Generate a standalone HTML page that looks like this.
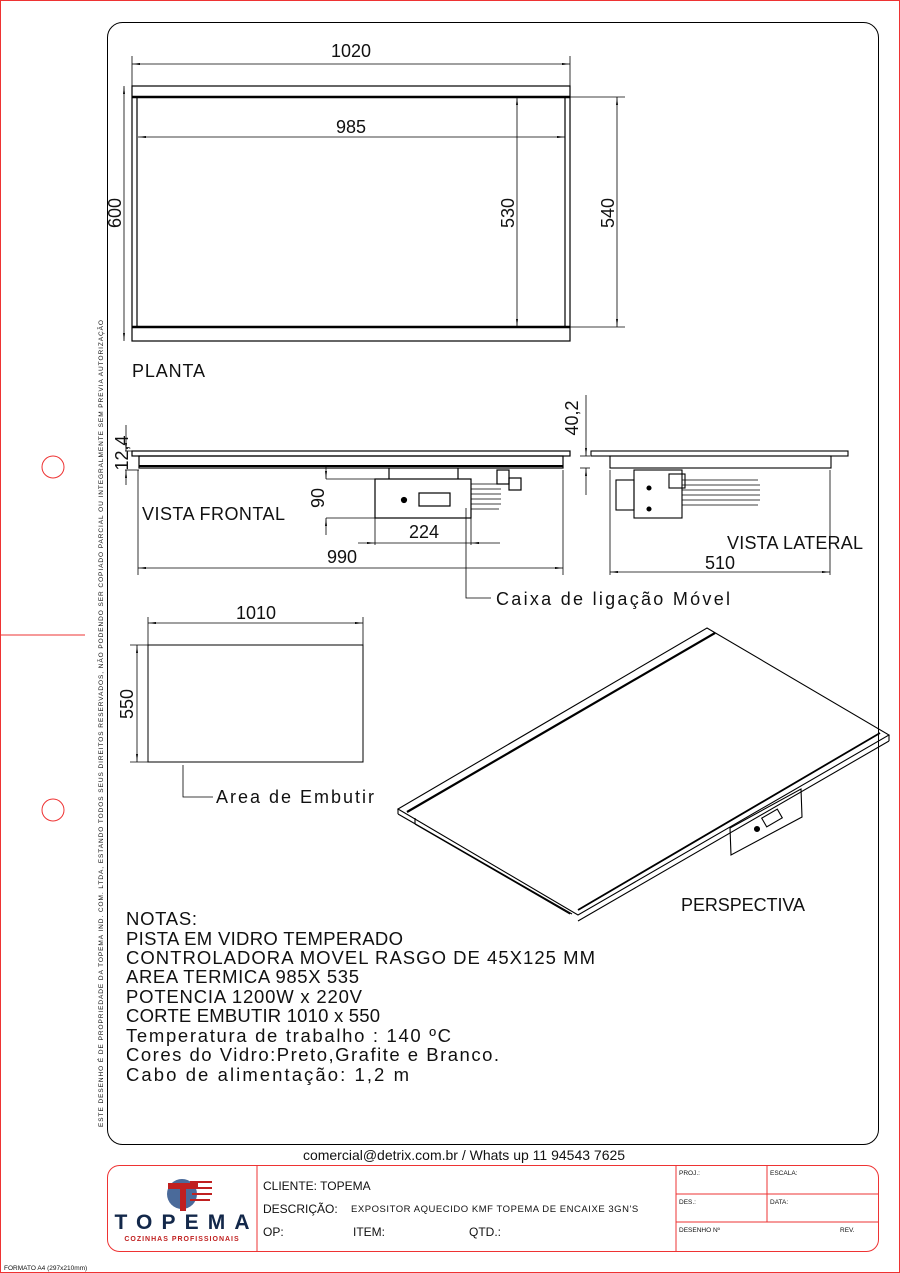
<!DOCTYPE html>
<html><head><meta charset="utf-8"><style>
body{margin:0;background:#fff}
svg{display:block}
text{font-family:"Liberation Sans",sans-serif;fill:#111}
</style></head><body>
<svg width="900" height="1273" viewBox="0 0 900 1273" xmlns="http://www.w3.org/2000/svg">
<defs><marker id="a" viewBox="0 0 10 4" refX="10" refY="2" markerWidth="10" markerHeight="4" orient="auto-start-reverse"><path d="M0,0.8L10,2L0,3.2z" fill="#000"/></marker></defs>
<rect x="0.5" y="0.5" width="899" height="1272" fill="none" stroke="#e33" stroke-width="1"/>
<line x1="0" y1="635" x2="85" y2="635" stroke="#e33"/>
<circle cx="53" cy="467" r="11" fill="none" stroke="#e33"/>
<circle cx="53" cy="810" r="11" fill="none" stroke="#e33"/>
<rect x="107.5" y="22.5" width="771" height="1122" rx="15" fill="none" stroke="#000"/>
<text transform="translate(103,1127) rotate(-90)" font-size="6.5" letter-spacing="1" textLength="808" lengthAdjust="spacing">ESTE DESENHO É DE PROPRIEDADE DA TOPEMA IND. COM. LTDA, ESTANDO TODOS SEUS DIREITOS RESERVADOS, NÃO PODENDO SER COPIADO PARCIAL OU INTEGRALMENTE SEM PREVIA AUTORIZAÇÃO</text>
<g fill="none" stroke="#000" stroke-width="1.2">
<rect x="132" y="86" width="438" height="255"/>
<line x1="132" y1="97" x2="570" y2="97" stroke-width="2.5"/>
<line x1="132" y1="327" x2="570" y2="327" stroke-width="2.5"/>
<line x1="137" y1="97" x2="137" y2="327"/><line x1="565" y1="97" x2="565" y2="327"/>
</g>
<g stroke="#000" stroke-width="0.8" fill="none">
<line x1="132" y1="86" x2="132" y2="56"/><line x1="570" y1="86" x2="570" y2="56"/>
<line x1="132" y1="64" x2="570" y2="64" marker-start="url(#a)" marker-end="url(#a)"/>
<line x1="138" y1="137" x2="565" y2="137" marker-start="url(#a)" marker-end="url(#a)"/>
<line x1="124" y1="86" x2="124" y2="341" marker-start="url(#a)" marker-end="url(#a)"/>
<line x1="517" y1="97" x2="517" y2="327" marker-start="url(#a)" marker-end="url(#a)"/>
<line x1="570" y1="97" x2="625" y2="97"/><line x1="570" y1="327" x2="625" y2="327"/>
<line x1="617" y1="97" x2="617" y2="327" marker-start="url(#a)" marker-end="url(#a)"/>
</g>
<text x="351" y="57" font-size="18" text-anchor="middle">1020</text>
<text x="351" y="133" font-size="18" text-anchor="middle">985</text>
<text transform="translate(121,213) rotate(-90)" font-size="18" text-anchor="middle">600</text>
<text transform="translate(514,213) rotate(-90)" font-size="18" text-anchor="middle">530</text>
<text transform="translate(614,213) rotate(-90)" font-size="18" text-anchor="middle">540</text>
<text x="132" y="377" font-size="18" textLength="73">PLANTA</text>
<g fill="none" stroke="#000" stroke-width="1.2">
<rect x="132" y="451" width="438" height="5"/>
<rect x="139" y="456" width="424" height="12"/>
<line x1="139" y1="466" x2="563" y2="466" stroke-width="2"/>
<line x1="389" y1="468" x2="389" y2="479"/><line x1="458" y1="468" x2="458" y2="479"/>
<rect x="375" y="479" width="96" height="39"/>
<rect x="419" y="493" width="31" height="13"/>
<circle cx="404" cy="500" r="2.5" fill="#000"/>
<path d="M471,484h28M471,489h30M471,494h30M471,499h30M471,504h30M471,509h28" stroke-width="0.7"/>
<rect x="497" y="470" width="12" height="14"/><rect x="509" y="478" width="12" height="12"/>
</g>
<g stroke="#000" stroke-width="0.8" fill="none">
<line x1="125" y1="451" x2="132" y2="451"/><line x1="125" y1="470" x2="139" y2="470"/>
<line x1="126" y1="425" x2="126" y2="451" marker-end="url(#a)"/><line x1="126" y1="485" x2="126" y2="470" marker-end="url(#a)"/>
<line x1="138" y1="470" x2="138" y2="575"/><line x1="563" y1="470" x2="563" y2="575"/>
<line x1="138" y1="568" x2="563" y2="568" marker-start="url(#a)" marker-end="url(#a)"/>
<line x1="326" y1="479" x2="375" y2="479"/><line x1="326" y1="518" x2="375" y2="518"/>
<line x1="326" y1="465" x2="326" y2="479" marker-end="url(#a)"/><line x1="326" y1="535" x2="326" y2="518" marker-end="url(#a)"/>
<line x1="375" y1="518" x2="375" y2="545"/><line x1="471" y1="518" x2="471" y2="545"/>
<line x1="358" y1="543" x2="375" y2="543" marker-end="url(#a)"/><line x1="375" y1="543" x2="471" y2="543"/><line x1="500" y1="543" x2="471" y2="543" marker-end="url(#a)"/>
<line x1="580" y1="456" x2="590" y2="456"/><line x1="580" y1="468" x2="590" y2="468"/>
<line x1="586" y1="395" x2="586" y2="456" marker-end="url(#a)"/><line x1="586" y1="495" x2="586" y2="468" marker-end="url(#a)"/>
<polyline points="466,508 466,598 491,598"/>
</g>
<text transform="translate(128,453) rotate(-90)" font-size="18" text-anchor="middle">12,4</text>
<text transform="translate(324,498) rotate(-90)" font-size="18" text-anchor="middle">90</text>
<text transform="translate(578,418) rotate(-90)" font-size="18" text-anchor="middle">40,2</text>
<text x="424" y="538" font-size="18" text-anchor="middle">224</text>
<text x="342" y="563" font-size="18" text-anchor="middle">990</text>
<text x="142" y="520" font-size="18" textLength="143">VISTA FRONTAL</text>
<text x="496" y="605" font-size="18" textLength="234">Caixa de ligação Móvel</text>
<g fill="none" stroke="#000" stroke-width="1.1">
<rect x="591" y="451" width="257" height="5"/>
<rect x="610" y="456" width="221" height="12"/>
<rect x="634" y="470" width="48" height="48"/>
<rect x="616" y="480" width="18" height="30"/>
<circle cx="649" cy="488" r="2" fill="#000"/><circle cx="649" cy="509" r="2" fill="#000"/>
<path d="M682,480h76M682,485h78M682,490h78M682,495h78M682,500h78M682,505h76" stroke-width="0.7"/>
<rect x="669" y="474" width="16" height="14"/>
</g>
<g stroke="#000" stroke-width="0.8" fill="none">
<line x1="610" y1="470" x2="610" y2="575"/><line x1="830" y1="470" x2="830" y2="575"/>
<line x1="610" y1="572" x2="830" y2="572" marker-start="url(#a)" marker-end="url(#a)"/>
</g>
<text x="727" y="549" font-size="18" textLength="136">VISTA LATERAL</text>
<text x="720" y="569" font-size="18" text-anchor="middle">510</text>
<rect x="148" y="645" width="215" height="117" fill="none" stroke="#000" stroke-width="1"/>
<g stroke="#000" stroke-width="0.8" fill="none">
<line x1="148" y1="645" x2="148" y2="617"/><line x1="363" y1="645" x2="363" y2="617"/>
<line x1="148" y1="623" x2="363" y2="623" marker-start="url(#a)" marker-end="url(#a)"/>
<line x1="148" y1="645" x2="130" y2="645"/><line x1="148" y1="762" x2="130" y2="762"/>
<line x1="137" y1="645" x2="137" y2="762" marker-start="url(#a)" marker-end="url(#a)"/>
<polyline points="183,765 183,797 213,797"/>
</g>
<text x="256" y="619" font-size="18" text-anchor="middle">1010</text>
<text transform="translate(133,704) rotate(-90)" font-size="18" text-anchor="middle">550</text>
<text x="216" y="803" font-size="18" textLength="158">Area de Embutir</text>
<g fill="none" stroke="#000" stroke-width="1.1">
<polygon points="707,628 889,735 578,915 398,809"/>
<line x1="715" y1="633" x2="407" y2="812" stroke-width="2.2"/>
<line x1="398" y1="809" x2="398" y2="814"/><line x1="398" y1="814" x2="572" y2="914"/>
<line x1="578" y1="910" x2="880" y2="733" stroke-width="1.8"/>
<line x1="889" y1="735" x2="889" y2="741"/><line x1="889" y1="741" x2="578" y2="921"/>
<line x1="415" y1="818" x2="415" y2="824"/><line x1="415" y1="824" x2="570" y2="914"/>
<polygon points="730,828 801,789 802,817 731,855"/>
<rect x="763" y="813" width="18" height="10" transform="rotate(-30 772 818)"/>
<circle cx="757" cy="829" r="2.5" fill="#000"/>
</g>
<text x="681" y="911" font-size="18" textLength="124">PERSPECTIVA</text>
<g font-size="18.5">
<text x="126" y="925" textLength="71">NOTAS:</text>
<text x="126" y="945" textLength="277">PISTA EM VIDRO TEMPERADO</text>
<text x="126" y="964" textLength="469">CONTROLADORA MOVEL RASGO DE 45X125 MM</text>
<text x="126" y="983" textLength="233">AREA TERMICA 985X 535</text>
<text x="126" y="1003" textLength="236">POTENCIA 1200W x 220V</text>
<text x="126" y="1022" textLength="254">CORTE EMBUTIR 1010 x 550</text>
<text x="126" y="1042" textLength="325">Temperatura de trabalho : 140 ºC</text>
<text x="126" y="1061" textLength="373">Cores do Vidro:Preto,Grafite e Branco.</text>
<text x="126" y="1081" textLength="283">Cabo de alimentação: 1,2 m</text>
</g>
<text x="464" y="1160" font-size="14" text-anchor="middle">comercial@detrix.com.br / Whats up 11 94543 7625</text>
<g fill="none" stroke="#e33" stroke-width="1">
<rect x="107.5" y="1165.5" width="771" height="86" rx="12"/>
<line x1="257" y1="1166" x2="257" y2="1251"/>
<line x1="676" y1="1166" x2="676" y2="1251"/>
<line x1="767" y1="1166" x2="767" y2="1222"/>
<line x1="676" y1="1194" x2="878" y2="1194"/>
<line x1="676" y1="1222" x2="878" y2="1222"/>
</g>
<g font-size="12">
<text x="263" y="1190">CLIENTE: TOPEMA</text>
<text x="263" y="1213">DESCRIÇÃO:</text>
<text x="351" y="1212" font-size="9.5" letter-spacing="0.8" textLength="288">EXPOSITOR AQUECIDO KMF TOPEMA DE ENCAIXE 3GN'S</text>
<text x="263" y="1236">OP:</text><text x="353" y="1236">ITEM:</text><text x="469" y="1236">QTD.:</text>
</g>
<g font-size="6.5"><text x="679" y="1175">PROJ.:</text><text x="770" y="1175">ESCALA:</text><text x="679" y="1204">DES.:</text><text x="770" y="1204">DATA:</text><text x="679" y="1232">DESENHO Nº</text><text x="840" y="1232">REV.</text></g>
<circle cx="182" cy="1194" r="15" fill="#4a6a9a"/>
<path d="M168,1183h30v6h-12v22h-6v-22h-12z" fill="#c02020"/>
<path d="M190,1182h22M192,1188h20M192,1194h20M190,1200h20" stroke="#c02020" stroke-width="2"/>
<text x="182" y="1229" font-size="21" font-weight="bold" text-anchor="middle" textLength="135" style="fill:#13284a">TOPEMA</text>
<text x="182" y="1241" font-size="7" font-weight="bold" text-anchor="middle" letter-spacing="1" style="fill:#c02020">COZINHAS PROFISSIONAIS</text>
<text x="4" y="1270" font-size="6.5">FORMATO A4 (297x210mm)</text>
</svg>
</body></html>
